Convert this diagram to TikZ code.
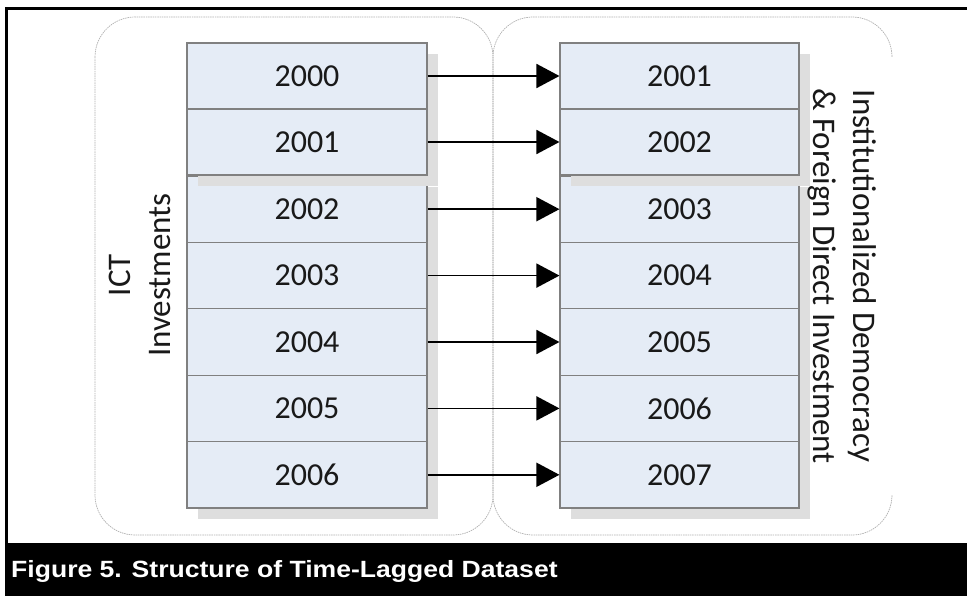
\documentclass[tikz,border=0pt]{standalone}
\usepackage{fontspec}
\usepackage{graphicx}
\usetikzlibrary{arrows.meta}
\newfontfamily\calib{Carlito}
\newfontfamily\capfont{Liberation Sans}
\definecolor{boxfill}{RGB}{229,236,246}
\definecolor{boxline}{RGB}{128,128,128}
\definecolor{shadowc}{RGB}{222,222,222}
\definecolor{contline}{RGB}{175,175,175}
\tikzset{
  yearbox/.style={draw=boxline, line width=1.1pt, fill=boxfill, minimum width=240pt, minimum height=66pt, inner sep=0pt, font=\calib\fontsize{32}{38}\selectfont, text=black!90},
  container/.style={draw=contline, line width=0.7pt, dash pattern=on 1.5pt off 0.8pt, rounded corners=40pt},
  lagarrow/.style={line width=1.8pt, -{Triangle[length=23pt, width=24pt]}},
  sidelabel/.style={font=\calib\fontsize{33}{40}\selectfont, align=center, text=black!90, inner sep=0pt}
}
\begin{document}
\begin{tikzpicture}[x=1pt, y=-1pt]
\useasboundingbox (0,0) rectangle (967,596);
% outer frame and caption bar
\draw[line width=3pt] (6.5,596) -- (6.5,8.5) -- (967,8.5);
\fill[black] (5,543) rectangle (967,596);
\node[anchor=base west, text=white, inner sep=0pt, font=\capfont\bfseries\fontsize{23.5}{28}\selectfont] (cap) at (11,577) {\scalebox{1.13}[1]{Figure 5. Structure of Time-Lagged Dataset}};
% containers
\draw[container] (95,17) rectangle (493,535);
\draw[container] (892,497) -- (892,535) -- (493,535) -- (493,17) -- (892,17) -- (892,56);
% shadows group 2
\fill[shadowc] (198,187) rectangle (438,519);
\fill[shadowc] (571,187) rectangle (810,519);
% group 2 boxes
\node[yearbox, minimum height=66.4pt] (L2) at (307,209.2) {2002};
\node[yearbox, minimum height=66.4pt] (L3) at (307,275.6) {2003};
\node[yearbox, minimum height=66.4pt] (L4) at (307,342) {2004};
\node[yearbox, minimum height=66.4pt] (L5) at (307,408.4) {2005};
\node[yearbox, minimum height=66.4pt] (L6) at (307,474.8) {2006};
\node[yearbox, minimum height=66.4pt, minimum width=239pt] (R2) at (679.5,209.2) {2003};
\node[yearbox, minimum height=66.4pt, minimum width=239pt] (R3) at (679.5,275.6) {2004};
\node[yearbox, minimum height=66.4pt, minimum width=239pt] (R4) at (679.5,342) {2005};
\node[yearbox, minimum height=66.4pt, minimum width=239pt] (R5) at (679.5,408.4) {2006};
\node[yearbox, minimum height=66.4pt, minimum width=239pt] (R6) at (679.5,474.8) {2007};
% shadows group 1
\fill[shadowc] (198,54) rectangle (438,186);
\fill[shadowc] (571,54) rectangle (810,186);
% group 1 boxes
\node[yearbox] (L0) at (307,76) {2000};
\node[yearbox] (L1) at (307,142) {2001};
\node[yearbox, minimum width=239pt] (R0) at (679.5,76) {2001};
\node[yearbox, minimum width=239pt] (R1) at (679.5,142) {2002};
% arrows
\foreach \i in {0,...,6} {
  \draw[lagarrow] (L\i.east) -- (R\i.west);
}
% side labels
\node[sidelabel, rotate=90] (ict) at (140,275) {ICT\\Investments};
\node[sidelabel, rotate=-90] (idfdi) at (842,276) {Institutionalized Democracy\\\& Foreign Direct Investment};
\end{tikzpicture}
\end{document}
